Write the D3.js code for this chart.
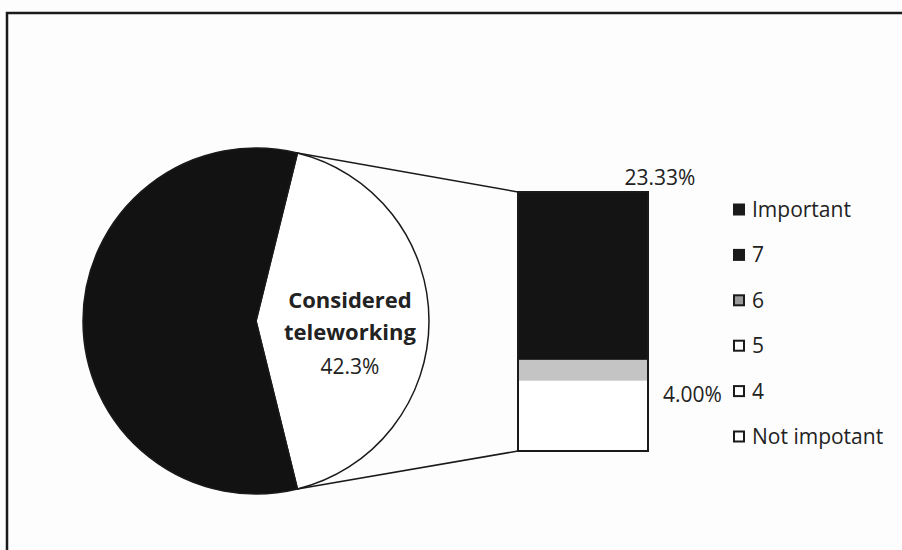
<!DOCTYPE html>
<html>
<head>
<meta charset="utf-8">
<script src="https://cdn.jsdelivr.net/npm/d3@7/dist/d3.min.js"></script>
<style>
  html, body { margin: 0; padding: 0; background: #fdfdfd; }
  svg { display: block; font-family: "Open Sans", "Lato", sans-serif; }
</style>
</head>
<body>
<svg id="chart" width="902" height="550"></svg>
<script>
// ---- data ----
const pieCategories = ["Considered teleworking", "Other"];
const pieValues = [42.3, 57.7];
const barCategories = ["Important", "7", "6", "5", "4", "Not impotant"];
const barValues = [23.33, 4.00, 3.40, 4.00, 3.80, 3.77];
const barLabels = ["23.33%", "", "", "4.00%", "", ""];
const legendLabels = ["Important", "7", "6", "5", "4", "Not impotant"];

const barFill = ["#141414", "#141414", "#c4c4c4", "#ffffff", "#ffffff", "#ffffff"];
const legendFill = ["#1a1a1a", "#1a1a1a", "#9a9a9a", "#ffffff", "#ffffff", "#ffffff"];
const textColor = "#222222";

const svg = d3.select("#chart");

// frame
svg.append("path")
  .attr("d", "M7,560 L7,13 L910,13")
  .attr("fill", "none").attr("stroke", "#1a1a1a").attr("stroke-width", 2.5);

// ---- pie ----
const cx = 256, cy = 321, r = 173;
const share = pieValues[0] / d3.sum(pieValues);
const start = Math.PI / 2 - share * Math.PI;
const pie = d3.pie().sort(null).startAngle(start).endAngle(start + 2 * Math.PI);
const arcs = pie(pieValues);
const arc = d3.arc().innerRadius(0).outerRadius(r);
const pg = svg.append("g").attr("transform", `translate(${cx},${cy})`);
pg.selectAll("path").data(arcs).join("path")
  .attr("d", arc)
  .attr("fill", (d, i) => i === 0 ? "#ffffff" : "#121212")
  .attr("stroke", "#1a1a1a").attr("stroke-width", 1.5);

// pie label
const labelG = svg.append("g").attr("fill", textColor).attr("text-anchor", "middle");
labelG.append("text").attr("x", 350).attr("y", 308).attr("font-weight", "bold").attr("font-size", 22).text("Considered");
labelG.append("text").attr("x", 350).attr("y", 340).attr("font-weight", "bold").attr("font-size", 22).text("teleworking");
labelG.append("text").attr("x", 350).attr("y", 374).attr("font-size", 21).text(pieValues[0].toFixed(1) + "%");

// ---- bar ----
const bx0 = 518, bx1 = 648;
const total = d3.sum(barValues);
const y = d3.scaleLinear().domain([0, total]).range([451, 192]);
const stackData = [];
let acc = 0;
for (let i = barValues.length - 1; i >= 0; i--) {
  stackData.push({ i, y0: acc, y1: acc + barValues[i] });
  acc += barValues[i];
}
const bg = svg.append("g");
bg.selectAll("rect").data(stackData).join("rect")
  .attr("x", bx0).attr("width", bx1 - bx0)
  .attr("y", d => y(d.y1)).attr("height", d => y(d.y0) - y(d.y1) + 0.5)
  .attr("fill", d => barFill[d.i]);
bg.append("rect").attr("x", bx0).attr("y", y(total)).attr("width", bx1 - bx0)
  .attr("height", y(0) - y(total)).attr("fill", "none")
  .attr("stroke", "#1a1a1a").attr("stroke-width", 2);

// connector lines from pie slice edges to bar corners
const a0 = arcs[0].startAngle, a1 = arcs[0].endAngle;
const p0 = [cx + r * Math.sin(a0), cy - r * Math.cos(a0)];
const p1 = [cx + r * Math.sin(a1), cy - r * Math.cos(a1)];
svg.append("line").attr("x1", p0[0]).attr("y1", p0[1]).attr("x2", bx0).attr("y2", y(total))
  .attr("stroke", "#1a1a1a").attr("stroke-width", 1.5);
svg.append("line").attr("x1", p1[0]).attr("y1", p1[1]).attr("x2", bx0).attr("y2", y(0))
  .attr("stroke", "#1a1a1a").attr("stroke-width", 1.5);

// bar labels
stackData.forEach(d => {
  const t = barLabels[d.i];
  if (!t) return;
  if (d.i === 0) {
    svg.append("text").attr("x", 660).attr("y", y(total) - 7).attr("text-anchor", "middle")
      .attr("font-size", 21).attr("fill", textColor).text(t);
  } else {
    svg.append("text").attr("x", 663).attr("y", (y(d.y0) + y(d.y1)) / 2 + 10)
      .attr("font-size", 21).attr("fill", textColor).text(t);
  }
});

// ---- legend ----
const lg = svg.append("g");
const rowY = d3.scaleLinear().domain([0, legendLabels.length - 1]).range([210, 437]);
legendLabels.forEach((t, i) => {
  const yy = rowY(i);
  lg.append("rect").attr("x", 734).attr("y", yy - 5.5).attr("width", 10).attr("height", 10)
    .attr("fill", legendFill[i]).attr("stroke", "#1a1a1a").attr("stroke-width", 2);
  lg.append("text").attr("x", 752).attr("y", yy + 7).attr("font-size", 21).attr("fill", textColor).text(t);
});
</script>
</body>
</html>
